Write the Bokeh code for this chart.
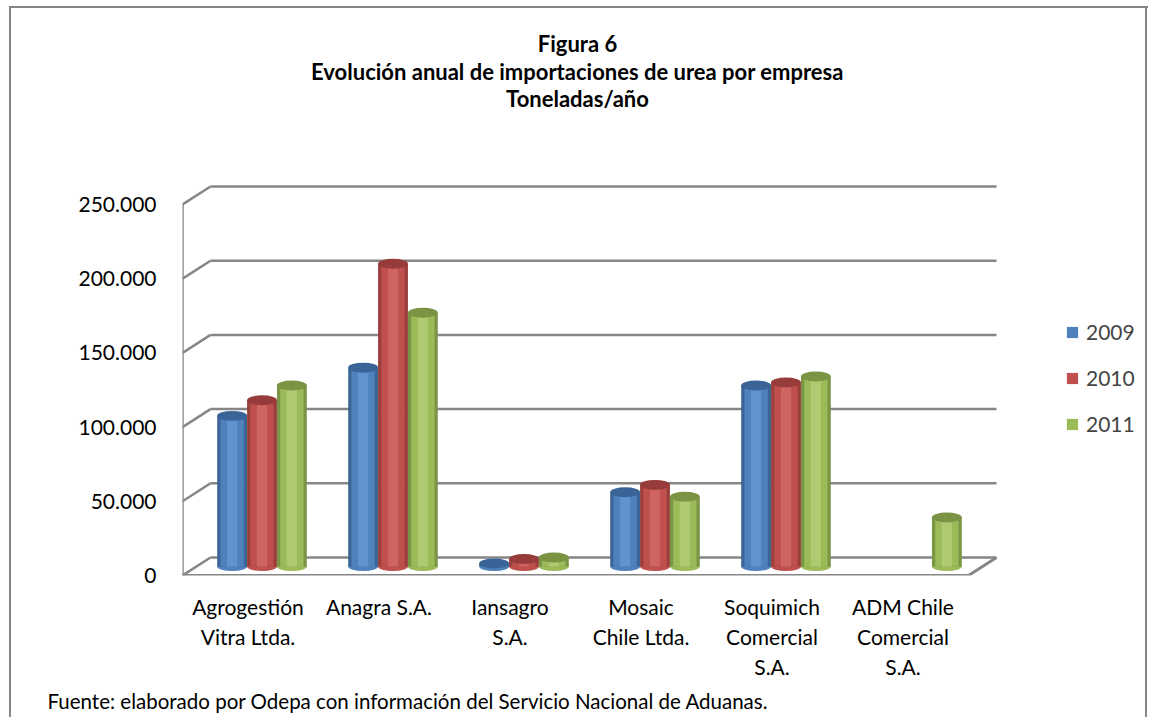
from bokeh.plotting import figure
from bokeh.models import (Range1d, FixedTicker, LinearAxis, Legend, LegendItem,
                          Title, Label, ColumnDataSource)
from bokeh.embed import file_html
from bokeh.resources import INLINE

# ---------------- data ----------------
companies = ["Agrogestión\nVitra Ltda.", "Anagra S.A.", "Iansagro\nS.A.",
             "Mosaic\nChile Ltda.", "Soquimich\nComercial\nS.A.",
             "ADM Chile\nComercial\nS.A."]
years = ["2009", "2010", "2011"]
v2009 = [101500, 134000, 2000, 50000, 122000, 0]
v2010 = [112000, 204000, 5000, 55000, 124000, 0]
v2011 = [122000, 171000, 6000, 47000, 128000, 33000]
y_ticks = [0, 50000, 100000, 150000, 200000, 250000]
y_tick_labels = ["0", "50.000", "100.000", "150.000", "200.000", "250.000"]
title_lines = ["Figura 6",
               "Evolución anual de importaciones de urea por empresa",
               "Toneladas/año"]
source_note = "Fuente: elaborado por Odepa con información del Servicio Nacional de Aduanas."

# ---------------- geometry (pseudo 3-D) ----------------
W, H = 1154, 717
FL, FR, FT, FB = 182, 1154, 0, 575      # plot frame in canvas pixels
PX_CAT = 131.0                          # pixels per category
PX_VAL = 371.0 / 250000.0               # pixels per tonne
DX, DY = 28.0, 18.0                     # depth offset of back wall
FONT = "Lato"
GRID = "#868686"


def xr(shift):
    start = -0.5 - shift / PX_CAT
    return Range1d(start, start + (FR - FL) / PX_CAT)


def yr(shift):
    start = -shift / PX_VAL
    return Range1d(start, start + (FB - FT) / PX_VAL)


def cx(px):   # canvas x -> front data x
    return (px - FL) / PX_CAT - 0.5


def cy(py):   # canvas y -> front data y
    return (FB - py) / PX_VAL


p = figure(width=W, height=H, x_range=xr(0), y_range=yr(0),
           output_backend="svg", toolbar_location=None,
           x_axis_type=None, y_axis_type=None)
p.min_border_left = FL
p.min_border_right = W - FR
p.min_border_top = FT
p.min_border_bottom = H - FB
p.outline_line_color = None
p.background_fill_alpha = 0
p.border_fill_alpha = 0
# outer chart frame (left, top and right edges) drawn as CSS background lines
line = "linear-gradient(%s,%s)" % (GRID, GRID)
p.styles = {
    "background": (f"{line} 9px 6px / 2px 711px no-repeat, "
                   f"{line} 9px 6px / 1139px 2px no-repeat, "
                   f"{line} 1145px 6px / 2px 711px no-repeat, white"),
}
p.extra_x_ranges = {"mid": xr(DX / 2), "back": xr(DX)}
p.extra_y_ranges = {"mid": yr(DY / 2), "back": yr(DY)}

n = len(companies)

# back wall gridlines
p.segment(x0=[-0.5] * len(y_ticks), x1=[n - 0.5] * len(y_ticks), y0=y_ticks, y1=y_ticks,
          x_range_name="back", y_range_name="back", line_color=GRID, line_width=2.5)
# side wall connectors
p.segment(x0=[-0.5] * len(y_ticks), x1=[-0.5 + DX / PX_CAT] * len(y_ticks),
          y0=y_ticks, y1=[t + DY / PX_VAL for t in y_ticks],
          line_color=GRID, line_width=2.5)
# front vertical axis
p.segment(x0=[-0.5], x1=[-0.5], y0=[y_ticks[0]], y1=[y_ticks[-1]],
          line_color=GRID, line_width=2.5)
# floor front edge + right slant
p.segment(x0=[-0.5, n - 0.5], x1=[n - 0.5, n - 0.5 + DX / PX_CAT],
          y0=[0, 0], y1=[0, DY / PX_VAL], line_color=GRID, line_width=3)

# ---------------- cylinders ----------------
series = [v2009, v2010, v2011]
offsets = [-0.228, 0.0, 0.228]
BW = 0.228
palette = [
    # edge, main, highlight, top
    ("#3C6596", "#4F81BD", "#6193CF", "#3A6397"),
    ("#9A3F3C", "#C0504D", "#CF6562", "#973C3A"),
    ("#7B9546", "#9BBB59", "#AECB72", "#7A9444"),
]
legend_items = []
for j, vals in enumerate(series):
    xs = [i + offsets[j] for i, v in enumerate(vals) if v > 0]
    tops = [v for v in vals if v > 0]
    src = ColumnDataSource(dict(x=xs, top=tops))
    edge, main, hi, topc = palette[j]
    kw = dict(source=src, x_range_name="mid", y_range_name="mid")
    p.ellipse(x="x", y=0, width=BW, height=9, height_units="screen",
              fill_color=main, line_color=None, **kw)
    p.vbar(x="x", top="top", bottom=0, width=BW, fill_color=edge, line_color=None, **kw)
    r_main = p.vbar(x="x", top="top", bottom=0, width=BW * 0.78, fill_color=main,
                    line_color=None, **kw)
    p.vbar(x="x", top="top", bottom=0, width=BW * 0.34, fill_color=hi,
           line_color=None, **kw)
    p.ellipse(x="x", y="top", width=BW, height=10, height_units="screen",
              fill_color=topc, line_color=None, **kw)
    legend_items.append(LegendItem(label=years[j], renderers=[r_main]))

# ---------------- axes ----------------
yaxis = LinearAxis(ticker=FixedTicker(ticks=y_ticks),
                   major_label_overrides={t: l for t, l in zip(y_ticks, y_tick_labels)})
xaxis = LinearAxis(ticker=FixedTicker(ticks=list(range(n))),
                   major_label_overrides={i: c for i, c in enumerate(companies)})
for ax in (yaxis, xaxis):
    ax.axis_line_color = None
    ax.major_tick_line_color = None
    ax.minor_tick_line_color = None
    ax.major_label_text_font = FONT
    ax.major_label_text_font_size = "21px"
    ax.major_label_text_color = "black"
yaxis.major_label_standoff = 20
xaxis.major_label_standoff = 12
xaxis.major_label_text_line_height = 1.2
p.add_layout(yaxis, "left")
p.add_layout(xaxis, "below")

# ---------------- legend ----------------
legend = Legend(items=legend_items, location=(883, 139))
legend.border_line_color = None
legend.background_fill_alpha = 0
legend.glyph_width = 14
legend.glyph_height = 14
legend.label_height = 20
legend.spacing = 21
legend.padding = 0
legend.margin = 0
legend.label_standoff = 7
legend.label_text_font = FONT
legend.label_text_font_size = "21px"
p.add_layout(legend, "center")

# ---------------- titles / note ----------------
for txt, yy in zip(title_lines, [43, 71, 98]):
    p.add_layout(Label(x=cx(577), y=cy(yy), text=txt,
                       text_align="center", text_baseline="middle",
                       text_font=FONT, text_font_style="bold",
                       text_font_size="22px", text_color="black"))
p.add_layout(Title(text=source_note, align="left", offset=-135, standoff=10,
                   text_font=FONT, text_font_style="normal",
                   text_font_size="20.5px", text_color="black"), "below")

open("out.html", "w").write(file_html(p, INLINE))
